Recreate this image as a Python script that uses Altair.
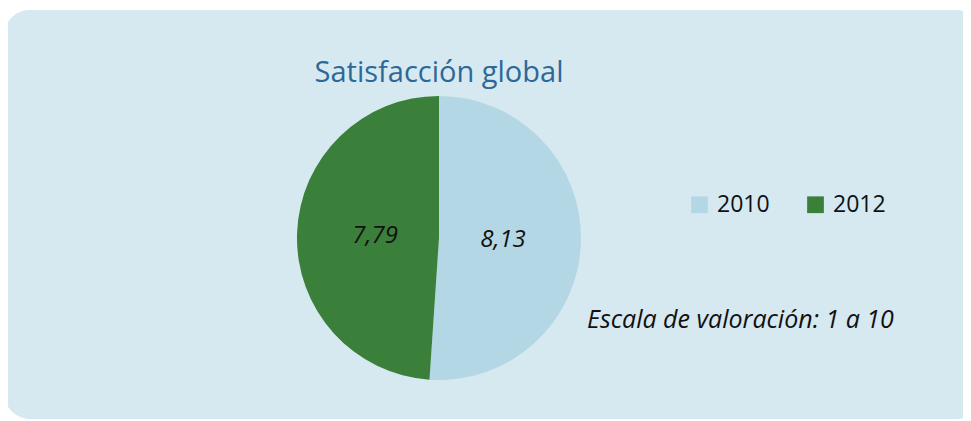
import altair as alt
import pandas as pd

years = ["2010", "2012"]
values = [8.13, 7.79]
labels = ["8,13", "7,79"]
colors = ["#b4d7e5", "#3a7f3a"]
title_text = "Satisfacción global"
note_text = "Escala de valoración: 1 a 10"

df = pd.DataFrame({"year": years, "value": values, "label": labels})

W, H = 955, 413
CX, CY, R = 431, 230, 142

bg = alt.Chart(pd.DataFrame({"a": [0]})).mark_rect(
    color="#d6e8f0", cornerRadius=26
).encode(x=alt.value(-4), x2=alt.value(975), y=alt.value(2), y2=alt.value(411))

base = alt.Chart(df).encode(
    theta=alt.Theta("value:Q", stack=True),
    order=alt.Order("year:N"),
)

pie = base.mark_arc(radius=R, stroke=None).encode(
    x=alt.value(CX), y=alt.value(CY),
    color=alt.Color(
        "year:N",
        scale=alt.Scale(domain=years, range=colors),
        legend=alt.Legend(
            title=None, orient="none", direction="horizontal",
            legendX=680, legendY=185, symbolType="square", symbolSize=280,
            symbolStrokeWidth=0, labelFontSize=23, labelFont="Open Sans",
            labelColor="#111", columnPadding=34, labelOffset=6,
        ),
    ),
)
text = base.mark_text(
    radius=64, fontSize=24, fontStyle="italic", font="Open Sans"
).encode(x=alt.value(CX), y=alt.value(CY), text="label:N",
         color=alt.value("#111"))

title = alt.Chart(pd.DataFrame({"t": [title_text]})).mark_text(
    fontSize=29, font="Open Sans", color="#2c6898", baseline="alphabetic"
).encode(x=alt.value(CX), y=alt.value(74), text="t:N")

note = alt.Chart(pd.DataFrame({"t": [note_text]})).mark_text(
    fontSize=25, font="Open Sans", fontStyle="italic", color="#111",
    align="left", baseline="middle"
).encode(x=alt.value(579), y=alt.value(312), text="t:N")

chart = alt.layer(bg, pie, text, title, note).properties(
    width=W, height=H, autosize=alt.AutoSizeParams(type="none"),
    padding=0, background="white"
).configure_view(stroke=None)

chart.save("out.html", embed_options={"renderer": "svg", "actions": False})
